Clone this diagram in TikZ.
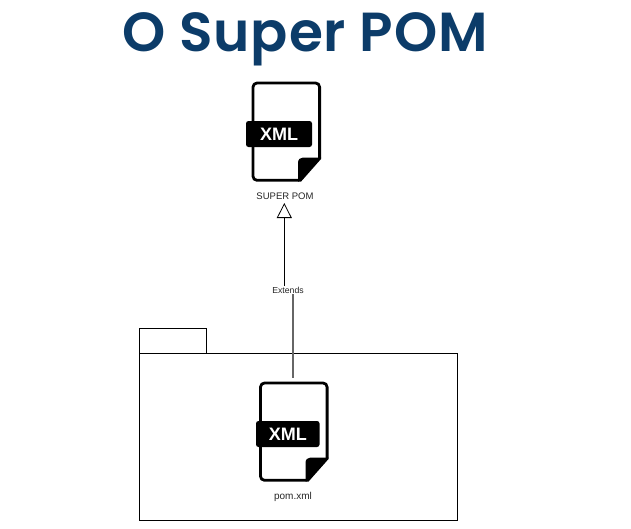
\documentclass[tikz,border=0pt]{standalone}
\usepackage{fontspec}
\setmainfont{Liberation Sans}
\newfontfamily\titlefont[LetterSpace=1.5]{Poppins SemiBold}
\usetikzlibrary{arrows.meta}
\definecolor{titleblue}{HTML}{0C3C69}
\tikzset{
  x=1pt,y=-1pt,
  lbl/.style={inner sep=0pt,text=black!85},
  framing/.style={draw=black,line width=0.8pt},
  link/.style={draw=black,line width=0.8pt},
  pics/xmlfile/.style 2 args={code={
    \draw[line width=2.8pt,rounded corners=4pt,line join=round] (47,98.3) -- (1,98.3) -- (1,1) -- (67.6,1) -- (67.6,76);
    \fill[black] (46,99.6) -- (46,81) .. controls (46,77.5) and (48,75.5) .. (51,75.5) -- (69,75.5) -- (69,77) -- (49,99.6) -- cycle;
    \fill[black,rounded corners=2.5pt] (#1,39) rectangle (#2,65);
    \node[text=white,font=\fontsize{18}{18}\selectfont\bfseries,inner sep=0pt] at ({(#1+#2)/2},52.5) {XML};
  }}
}
\begin{document}
\begin{tikzpicture}
\useasboundingbox (0,0) rectangle (631,528);
\fill[white] (0,0) rectangle (631,528);
\node[titleblue,font=\fontsize{55}{55}\selectfont\titlefont,inner sep=0pt] (title) at (305,39.5) {O Super POM};
\pic at (252,82) {xmlfile={-6}{60}};
\pic at (259.5,382) {xmlfile={-3.5}{60}};
\node[lbl,font=\fontsize{9.5}{10}\selectfont] (superlabel) at (285,196) {SUPER POM};
\node[lbl,font=\fontsize{10}{10}\selectfont] (pomlabel) at (293,497) {pom.xml};
\node[framing,minimum width=67pt,minimum height=25pt,inner sep=0pt,anchor=north west] (tab) at (139,328) {};
\node[framing,minimum width=318pt,minimum height=167pt,inner sep=0pt,anchor=north west] (folder) at (139,353) {};
\node[lbl,font=\fontsize{8.7}{9}\selectfont,fill=white,inner sep=1pt] (extends) at (288,290) {Extends};
\coordinate (apex) at (284.3,203);
\coordinate (linebottom) at (293,378);
\draw[link,-{Triangle[open,length=15pt,width=15pt,fill=white]}] (apex |- extends.north) -- (apex);
\draw[draw=black!60,line width=1.4pt] (linebottom |- extends.south) -- (linebottom);
\end{tikzpicture}
\end{document}
